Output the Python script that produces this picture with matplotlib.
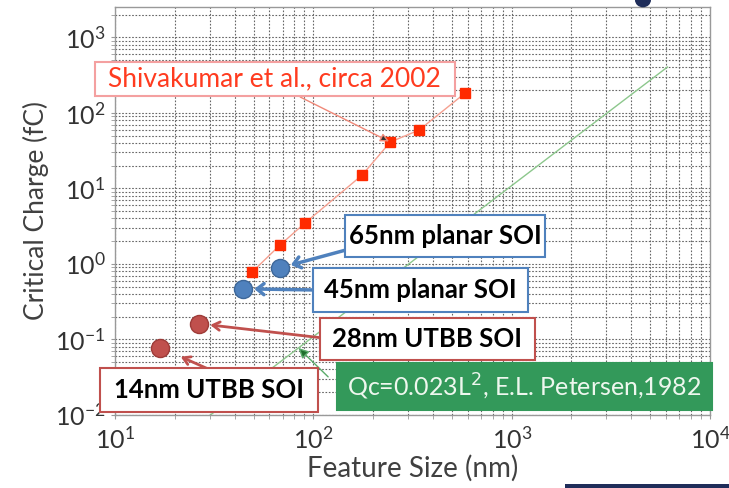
import numpy as np
import matplotlib.pyplot as plt
from matplotlib.patches import Rectangle, Ellipse

plt.rcParams['font.family'] = ['Lato', 'DejaVu Sans']

# Shivakumar et al. (circa 2002) data
shiv_x = [49.1, 67.9, 90.8, 176, 244, 341, 582]
shiv_y = [0.78, 1.78, 3.49, 15.0, 41.1, 59.2, 183]

# planar SOI nodes
planar_x = [67.9, 44.2]
planar_y = [0.885, 0.467]
planar_lbl = ["65nm planar SOI", "45nm planar SOI"]

# UTBB SOI nodes
utbb_x = [26.5, 16.9]
utbb_y = [0.161, 0.0774]
utbb_lbl = ["28nm UTBB SOI", "14nm UTBB SOI"]

# Petersen 1982 line end points
pet_x = [30, 6100]
pet_y = [0.0098, 405]
pet_arrow_at = 84

BLUE = "#4f81bd"
BRED = "#c0504d"
GREEN = "#33995a"

fig = plt.figure(figsize=(7.29, 4.88), dpi=100)
ax = fig.add_axes([0.158, 0.150, 0.816, 0.836])
ax.set_xscale("log")
ax.set_yscale("log")
ax.set_xlim(10, 1e4)
ax.set_ylim(0.01, 2540)

ax.grid(True, which="both", color="#666666", linestyle=(0, (1.5, 1.5)), linewidth=0.8)
ax.set_axisbelow(True)
for s in ax.spines.values():
    s.set_color("#999999")
    s.set_linewidth(1.0)
ax.tick_params(which="both", colors="#999999", labelcolor="#333333", labelsize=18, length=3)
ax.tick_params(axis="x", pad=5)
ax.tick_params(axis="y", pad=4)
ax.set_xlabel("Feature Size (nm)", fontsize=20, color="#404040", labelpad=2)
ax.set_ylabel("Critical Charge (fC)", fontsize=19, color="#404040", labelpad=4)

# data
ax.plot(pet_x, pet_y, color="#8cc78c", lw=1.0, zorder=2)
ax.plot(shiv_x, shiv_y, color="#f5a090", lw=1.0, marker="s", ms=7,
        mfc="#ff2a00", mec="#ff2a00", zorder=3)
ax.plot(planar_x, planar_y, ls="none", marker="o", ms=13, mfc=BLUE, mec="#3d6799", zorder=4)
ax.plot(utbb_x, utbb_y, ls="none", marker="o", ms=13, mfc=BRED, mec="#9e3b38", zorder=4)


def box(x0, y0, w, h, text, ec, fc="white", tc="black", weight="bold", size=18.5):
    r = Rectangle((x0, y0), w, h, transform=ax.transAxes, fc=fc, ec=ec, lw=1.5,
                  clip_on=False, zorder=6)
    ax.add_patch(r)
    ax.text(x0 + w / 2, y0 + h / 2, text, transform=ax.transAxes, ha="center", va="center",
            color=tc, fontsize=size, fontweight=weight, zorder=7, clip_on=False)


def arrow(start, target, color, lw, style, shrinkB=0, fc=None):
    ax.annotate("", xy=target, xycoords="data", xytext=start, textcoords="axes fraction",
                arrowprops=dict(arrowstyle=style, color=color, lw=lw, shrinkA=0, shrinkB=shrinkB,
                                fc=fc if fc else color),
                zorder=5, annotation_clip=False)


# Shivakumar label
arrow((0.311, 0.779), (shiv_x[4], shiv_y[4]), "#f08878", 1.0, "-|>,head_width=0.25,head_length=0.5",
      shrinkB=1, fc="#333333")
box(-0.034, 0.782, 0.605, 0.083, "Shivakumar et al., circa 2002", "#f4a0a0",
    tc="#ff3b1f", weight="normal", size=19)

# planar SOI labels
arrow((0.388, 0.404), (planar_x[0], planar_y[0]), BLUE, 2.5, "->,head_width=0.4,head_length=0.5", shrinkB=8)
box(0.387, 0.386, 0.336, 0.103, planar_lbl[0], BLUE)
arrow((0.333, 0.306), (planar_x[1], planar_y[1]), BLUE, 2.5, "->,head_width=0.4,head_length=0.5", shrinkB=8)
box(0.333, 0.252, 0.361, 0.108, planar_lbl[1], BLUE)

# UTBB labels
arrow((0.345, 0.189), (utbb_x[0], utbb_y[0]), BRED, 2.0, "->,head_width=0.3,head_length=0.5", shrinkB=8)
box(0.345, 0.135, 0.360, 0.103, utbb_lbl[0], BRED)
arrow((0.160, 0.110), (utbb_x[1], utbb_y[1]), BRED, 2.0, "->,head_width=0.3,head_length=0.5", shrinkB=16)
box(-0.025, 0.007, 0.366, 0.108, utbb_lbl[1], BRED)

# Petersen label
pet_t = 10 ** np.interp(np.log10(pet_arrow_at), np.log10(pet_x), np.log10(pet_y))
arrow((0.358, 0.093), (pet_arrow_at, pet_t), "#5aab6a", 1.0, "-|>,head_width=0.3,head_length=0.6",
      fc="#1e6e2c")
box(0.373, 0.012, 0.630, 0.115, "Qc=0.023L$^2$, E.L. Petersen,1982", GREEN, fc=GREEN,
    tc="#eef7ee", weight="normal", size=18)

# slide remnants
fig.add_artist(Rectangle((0.775, 0.0), 0.225, 0.008, transform=fig.transFigure,
                         fc="#1f2d5a", ec="none"))
fig.add_artist(Ellipse((0.882, 1.0), 0.022, 0.03, transform=fig.transFigure,
                       fc="#1f2d5a", ec="none"))

fig.savefig("out.png", dpi=100)
